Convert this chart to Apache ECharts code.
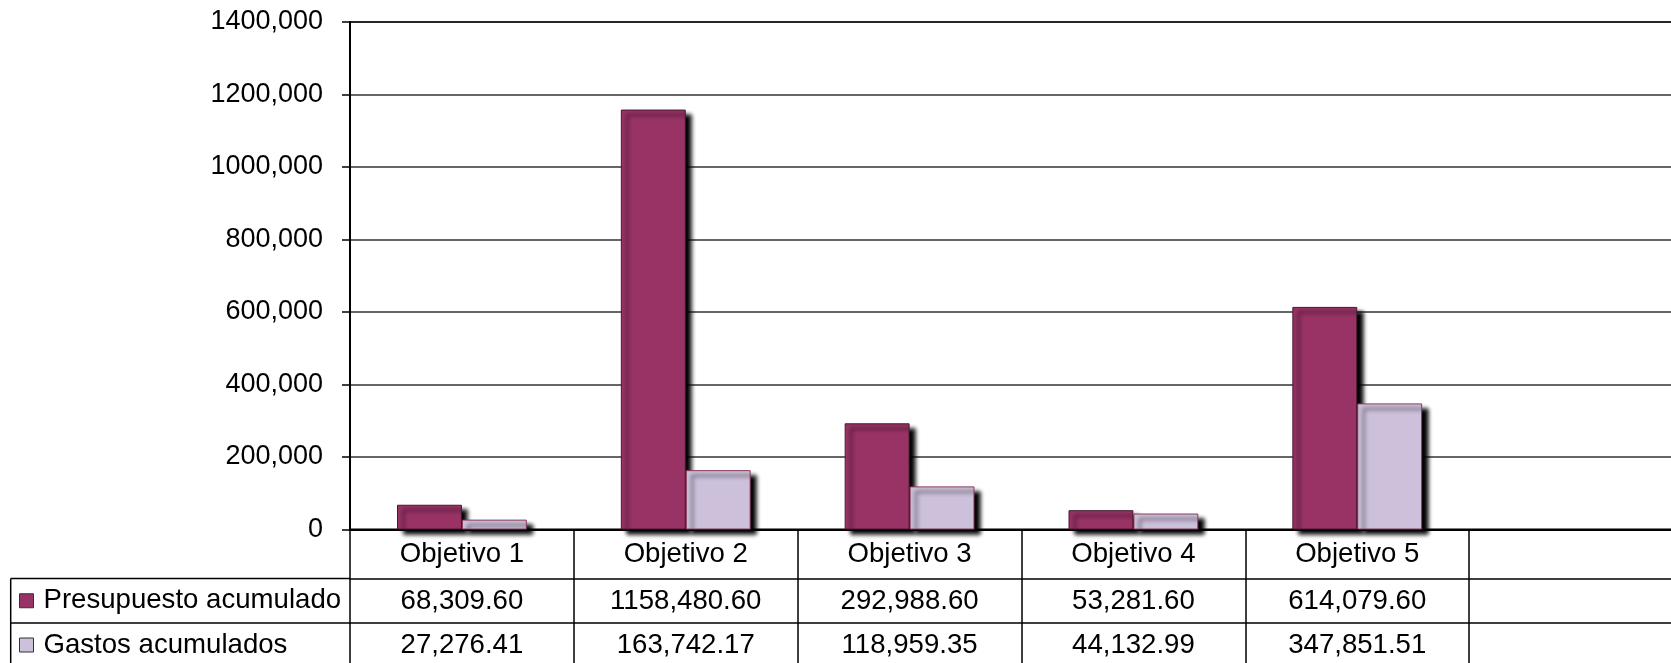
<!DOCTYPE html>
<html>
<head>
<meta charset="utf-8">
<script src="https://cdn.jsdelivr.net/npm/echarts@6/dist/echarts.min.js"></script>
<style>
html,body{margin:0;padding:0;background:#fff;}
#c{width:1671px;height:663px;}
</style>
</head>
<body>
<div id="c"></div>
<script>
// ---- data ----
const categories = ['Objetivo 1', 'Objetivo 2', 'Objetivo 3', 'Objetivo 4', 'Objetivo 5', ''];
const seriesNames = ['Presupuesto acumulado', 'Gastos acumulados'];
const presupuesto = [68309.60, 1158480.60, 292988.60, 53281.60, 614079.60];
const gastos = [27276.41, 163742.17, 118959.35, 44132.99, 347851.51];
const yTicks = [0, 200000, 400000, 600000, 800000, 1000000, 1200000, 1400000];

// ---- styles ----
const FONT = '"Liberation Sans", Arial, sans-serif';
const FS = 27;
const FS_T = 27.6;
const C1 = '#993366', C2 = '#CCC0DA';

function fmtTable(v) {
  if (v === undefined || v === null) return '';
  const s = v.toFixed(2);
  const parts = s.split('.');
  const i = parts[0], n = i.length;
  return (n > 3 ? i.slice(0, n - 3) + ',' + i.slice(n - 3) : i) + '.' + parts[1];
}
function fmtAxis(v) { return v === 0 ? '0' : (v / 1000) + ',000'; }

const chart = echarts.init(document.getElementById('c'));
const gridTop = 22, gridBottomY = 529.5, gridLeft = 350;

const baseLabel = { fontFamily: FONT, fontSize: FS, color: '#000', lineHeight: 30 };
const tableLabel = { fontFamily: FONT, fontSize: FS_T, color: '#000', lineHeight: 30 };
const shadow = { shadowColor: 'rgba(0,0,0,1)', shadowBlur: 4, shadowOffsetX: 6, shadowOffsetY: 5 };

chart.setOption({
  animation: false,
  grid: {
    left: gridLeft, top: gridTop, width: 1343, height: gridBottomY - gridTop,
    outerBoundsMode: 'none', containLabel: false,
    show: true, borderColor: '#000', borderWidth: 2, backgroundColor: 'transparent'
  },
  legend: [
    {
      data: [seriesNames[0]], left: 19, top: 600.75 - 15, padding: 0, orient: 'vertical',
      icon: 'rect', itemWidth: 14, itemHeight: 14, selectedMode: false,
      itemStyle: { color: C1, borderColor: '#333', borderWidth: 1, shadowBlur: 0, shadowOffsetX: 0, shadowOffsetY: 0 },
      textStyle: Object.assign({}, tableLabel, { padding: [0, 0, 0, 5] })
    },
    {
      data: [seriesNames[1]], left: 19, top: 645 - 15, padding: 0, orient: 'vertical',
      icon: 'rect', itemWidth: 14, itemHeight: 14, selectedMode: false,
      itemStyle: { color: C2, borderColor: '#333', borderWidth: 1, shadowBlur: 0, shadowOffsetX: 0, shadowOffsetY: 0 },
      textStyle: Object.assign({}, tableLabel, { padding: [0, 0, 0, 5] })
    }
  ],
  xAxis: [
    {
      type: 'category', data: categories, position: 'bottom',
      axisLine: { show: true, lineStyle: { color: '#000', width: 2 } },
      axisTick: { show: true, interval: 0, alignWithLabel: false, length: 140, lineStyle: { color: '#000', width: 1.5 } },
      axisLabel: Object.assign({}, tableLabel, { interval: 0, margin: 10 }),
      splitLine: { show: false }
    },
    {
      type: 'category', data: categories, position: 'bottom', offset: 49,
      axisLine: { show: true, lineStyle: { color: '#000', width: 1.5 } },
      axisTick: { show: false },
      axisLabel: Object.assign({}, tableLabel, { interval: 0, margin: 7.5,
        formatter: function (val, idx) { return fmtTable(presupuesto[idx]); } }),
      splitLine: { show: false }
    },
    {
      type: 'category', data: categories, position: 'bottom', offset: 93.5,
      axisLine: { show: true, lineStyle: { color: '#000', width: 1.5 } },
      axisTick: { show: false },
      axisLabel: Object.assign({}, tableLabel, { interval: 0, margin: 7,
        formatter: function (val, idx) { return fmtTable(gastos[idx]); } }),
      splitLine: { show: false }
    }
  ],
  yAxis: {
    type: 'value', min: yTicks[0], max: yTicks[yTicks.length - 1], interval: yTicks[1] - yTicks[0],
    axisLine: { show: true, lineStyle: { color: '#000', width: 2 } },
    axisTick: { show: true, length: 8, lineStyle: { color: '#000', width: 1.5 } },
    axisLabel: Object.assign({}, baseLabel, { margin: 27, formatter: fmtAxis }),
    splitLine: { show: true, lineStyle: { color: '#333', width: 1.5 } }
  },
  graphic: [
    { type: 'line', shape: { x1: 10.7, y1: 578.5, x2: 350, y2: 578.5 }, style: { stroke: '#000', lineWidth: 1.5 } },
    { type: 'line', shape: { x1: 10.7, y1: 623, x2: 350, y2: 623 }, style: { stroke: '#000', lineWidth: 1.5 } },
    { type: 'line', shape: { x1: 10.7, y1: 578.5, x2: 10.7, y2: 670 }, style: { stroke: '#000', lineWidth: 1.5 } }
  ],
  series: [
    {
      name: seriesNames[0], type: 'bar', data: presupuesto, xAxisIndex: 0,
      barGap: '0%', barCategoryGap: '42%',
      itemStyle: Object.assign({ color: C1, borderColor: '#4a1830', borderWidth: 1 }, shadow)
    },
    {
      name: seriesNames[1], type: 'bar', data: gastos, xAxisIndex: 0,
      barGap: '0%', barCategoryGap: '42%',
      itemStyle: Object.assign({ color: C2, borderColor: '#8a3a5a', borderWidth: 1 }, shadow)
    }
  ]
});
</script>
</body>
</html>
